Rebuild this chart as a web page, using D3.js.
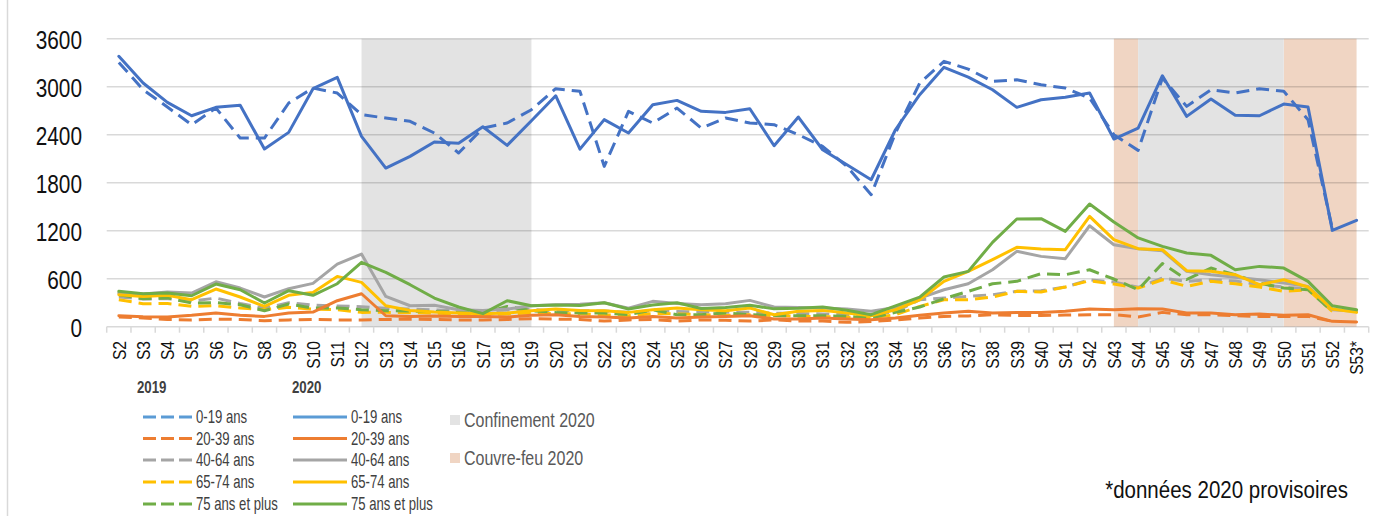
<!DOCTYPE html>
<html>
<head>
<meta charset="utf-8">
<script src="https://cdn.jsdelivr.net/npm/d3@7"></script>
<style>
  body { margin: 0; background: #fff; }
  svg { display: block; }
  .narrow { font-family: "Liberation Sans", Arial, sans-serif; }
</style>
</head>
<body>
<svg id="chart" width="1394" height="516"></svg>
<script>
// semaines
const weeks = ["S2","S3","S4","S5","S6","S7","S8","S9","S10","S11","S12","S13","S14","S15","S16","S17","S18","S19","S20",
  "S21","S22","S23","S24","S25","S26","S27","S28","S29","S30","S31","S32","S33","S34","S35","S36","S37","S38","S39","S40",
  "S41","S42","S43","S44","S45","S46","S47","S48","S49","S50","S51","S52","S53*"];
const yTicks = [0, 600, 1200, 1800, 2400, 3000, 3600];
const ageGroups = ["0-19 ans", "20-39 ans", "40-64 ans", "65-74 ans", "75 ans et plus"];

// periodes
const confinement = [["S12", "S19"], ["S44", "S50"]];
const couvreFeu = [["S43", "S44"], ["S50", "S53*"]];

// 2019 (S2 -> S52)
const s2019_0_19 = [3304,2962,2746,2525,2733,2358,2358,2796,2983,2921,2650,2608,2567,2421,2171,2483,2546,2712,2975,
  2942,2004,2692,2546,2733,2483,2608,2546,2525,2400,2254,2004,1650,2421,3046,3317,3220,3067,3087,3025,
  2983,2858,2400,2204,3108,2754,2962,2921,2975,2942,2587,1230];
const s2019_20_39 = [120,110,90,85,95,90,75,85,90,85,85,90,95,90,85,85,90,100,95,
  90,70,85,90,70,85,80,70,85,70,70,55,65,85,108,129,135,150,140,140,
  145,150,150,121,179,150,150,137,129,129,129,67];
const s2019_40_64 = [371,346,350,320,358,290,230,300,270,260,250,230,220,210,200,195,210,215,200,
  200,195,180,200,190,185,180,180,170,165,160,150,140,190,337,358,380,400,442,450,
  496,587,558,492,608,567,587,570,525,496,471,212];
const s2019_65_74 = [337,287,290,254,262,233,212,242,221,212,179,180,175,170,160,150,160,170,165,
  162,150,137,165,160,150,140,150,140,130,125,120,110,150,254,337,337,371,442,433,
  496,575,533,483,587,504,567,537,496,442,462,192];
const s2019_75p = [400,350,360,296,300,275,200,283,233,233,212,200,195,190,180,170,254,200,179,
  171,171,150,212,150,150,171,150,137,137,137,129,108,180,246,350,442,537,567,662,
  650,712,596,462,790,590,733,650,546,483,462,192];

// 2020 (S2 -> S53)
const s2020_0_19 = [3380,3046,2804,2637,2742,2767,2221,2429,2975,3117,2379,1983,2129,2308,2292,2500,2267,2575,2887,
  2220,2588,2421,2775,2829,2692,2679,2725,2262,2621,2212,2025,1837,2462,2900,3242,3120,2962,2742,2837,
  2867,2921,2346,2483,3137,2629,2846,2642,2637,2783,2746,1204,1329];
const s2020_20_39 = [137,125,121,142,171,142,129,171,183,325,412,137,129,133,129,129,121,142,150,
  129,121,108,129,108,121,129,137,96,96,108,96,87,108,142,171,192,171,179,179,
  192,221,212,225,221,171,171,150,158,142,150,67,58];
const s2020_40_64 = [420,410,433,421,562,483,371,475,542,783,908,379,262,267,212,204,221,262,275,
  280,300,230,317,290,275,287,329,246,240,233,221,192,240,358,462,537,712,942,879,
  850,1262,1025,975,950,692,650,617,587,546,504,212,192];
const s2020_65_74 = [400,379,392,337,471,371,254,392,429,629,554,262,204,183,171,163,171,200,221,
  204,200,179,212,233,212,200,233,150,192,204,171,137,212,337,567,692,838,992,971,
  962,1379,1088,975,962,700,692,650,525,587,496,221,179];
const s2020_75p = [442,412,421,387,533,462,296,450,392,537,804,679,525,358,246,163,325,262,270,
  265,300,221,270,300,228,240,268,223,231,246,206,150,260,370,621,692,1054,1346,1350,
  1192,1533,1308,1110,1004,921,892,712,754,733,567,262,212];

const colors = ["#4472c4", "#ed7d31", "#a5a5a5", "#ffc000", "#70ad47"];
const legendColors = ["#5b9bd5", "#ed7d31", "#a5a5a5", "#ffc000", "#70ad47"];
const series2019 = [s2019_0_19, s2019_20_39, s2019_40_64, s2019_65_74, s2019_75p];
const series2020 = [s2020_0_19, s2020_20_39, s2020_40_64, s2020_65_74, s2020_75p];

const svg = d3.select("#chart");

// cadre gauche
svg.append("line").attr("x1", 7.5).attr("x2", 7.5).attr("y1", 0).attr("y2", 516)
  .attr("stroke", "#d9d9d9").attr("stroke-width", 1.5);

const x = d3.scaleBand().domain(weeks).range([106.7, 1368.7]);
const y = d3.scaleLinear().domain([0, 3600]).range([326.7, 38.7]);
const cx = w => x(w) + x.bandwidth() / 2;

// zones
svg.append("g").selectAll("rect").data(couvreFeu).join("rect")
  .attr("x", d => cx(d[0])).attr("width", d => cx(d[1]) - cx(d[0]))
  .attr("y", y(3600)).attr("height", y(0) - y(3600))
  .attr("fill", "#f0d5c3");
svg.append("g").selectAll("rect").data(confinement).join("rect")
  .attr("x", d => cx(d[0])).attr("width", d => cx(d[1]) - cx(d[0]))
  .attr("y", y(3600)).attr("height", y(0) - y(3600))
  .attr("fill", "#e3e3e3");

// grille
svg.append("g").selectAll("line").data(yTicks).join("line")
  .attr("x1", 106.7).attr("x2", 1368.7)
  .attr("y1", d => y(d)).attr("y2", d => y(d))
  .attr("stroke", "rgba(0,0,0,0.15)").attr("stroke-width", 1.5);

// graduations x
const tickPos = weeks.map(w => x(w)).concat([x.range()[1]]);
svg.append("g").selectAll("line").data(tickPos).join("line")
  .attr("x1", d => d).attr("x2", d => d)
  .attr("y1", y(0)).attr("y2", y(0) + 6)
  .attr("stroke", "#d9d9d9").attr("stroke-width", 1.5);

// axe y
const yAxis = svg.append("g").attr("transform", "translate(82,0)")
  .call(d3.axisLeft(y).tickValues(yTicks).tickFormat(d3.format("d")).tickSize(0).tickPadding(0));
yAxis.select(".domain").remove();
yAxis.attr("font-family", null).attr("font-size", null).attr("class", "narrow");
yAxis.selectAll("text").attr("font-size", 26).attr("fill", "#111")
  .attr("x", 0).attr("dy", "0.36em").attr("transform", "scale(0.8,1)");

// axe x
const xAxis = svg.append("g").attr("transform", "translate(0,341)")
  .call(d3.axisBottom(x).tickSize(0).tickPadding(0));
xAxis.select(".domain").remove();
xAxis.attr("font-family", null).attr("font-size", null).attr("class", "narrow");
xAxis.selectAll("text")
  .attr("transform", "rotate(-90) scale(0.82,1)").attr("text-anchor", "end")
  .attr("x", 0).attr("y", 0).attr("dy", "0.36em")
  .attr("font-size", 19).attr("fill", "#111");

// courbes
const line = d3.line().x((d, i) => cx(weeks[i])).y(d => y(d));
const g19 = svg.append("g");
[1, 2, 3, 4, 0].forEach(k => {
  g19.append("path").attr("d", line(series2019[k]))
    .attr("fill", "none").attr("stroke", colors[k]).attr("stroke-width", 3)
    .attr("stroke-dasharray", "13,7").attr("stroke-linejoin", "round");
});
const g20 = svg.append("g");
[2, 1, 3, 4, 0].forEach(k => {
  g20.append("path").attr("d", line(series2020[k]))
    .attr("fill", "none").attr("stroke", colors[k]).attr("stroke-width", 3)
    .attr("stroke-linejoin", "round").attr("stroke-linecap", "round");
});

// legende
function label(parent, tx, ty, size, sx, txt) {
  return parent.append("text").attr("class", "narrow")
    .attr("transform", `translate(${tx},${ty}) scale(${sx},1)`)
    .attr("dy", "0.35em").attr("font-size", size).text(txt);
}
const leg = svg.append("g").attr("fill", "#404040");
label(leg, 137, 387, 17, 0.78, "2019").attr("font-weight", "bold");
label(leg, 292, 387, 17, 0.78, "2020").attr("font-weight", "bold");
const rowY = [417, 438.5, 460, 482, 504];
ageGroups.forEach((a, i) => {
  leg.append("line").attr("x1", 143).attr("x2", 192).attr("y1", rowY[i]).attr("y2", rowY[i])
    .attr("stroke", legendColors[i]).attr("stroke-width", 3).attr("stroke-dasharray", "13,5");
  label(leg, 196, rowY[i], 18, 0.73, a);
  leg.append("line").attr("x1", 293).attr("x2", 347).attr("y1", rowY[i]).attr("y2", rowY[i])
    .attr("stroke", legendColors[i]).attr("stroke-width", 3);
  label(leg, 351, rowY[i], 18, 0.73, a);
});

const zones = [["Confinement 2020", "#e3e3e3", 420], ["Couvre-feu 2020", "#f0d5c3", 458]];
zones.forEach(z => {
  svg.append("rect").attr("x", 450).attr("y", z[2] - 5).attr("width", 10).attr("height", 10).attr("fill", z[1]);
  label(svg, 464, z[2], 20, 0.8, z[0]).attr("fill", "#595959");
});

label(svg, 1348, 490, 24, 0.855, "*données 2020 provisoires")
  .attr("text-anchor", "end").attr("fill", "#111");
</script>
</body>
</html>
